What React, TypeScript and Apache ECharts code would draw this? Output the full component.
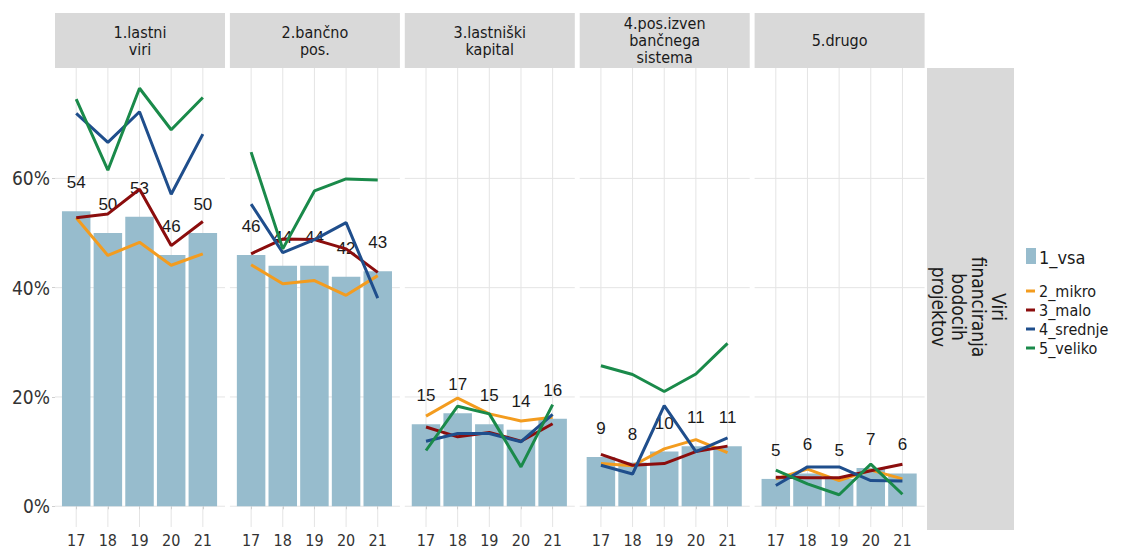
import React, { useEffect, useRef } from "react";
import * as echarts from "echarts";

// Survey years (x categories) and facet titles
const years = ["17", "18", "19", "20", "21"];
const panelTitles = [
  "1.lastni\nviri",
  "2.bančno\npos.",
  "3.lastniški\nkapital",
  "4.pos.izven\nbančnega\nsistema",
  "5.drugo",
];
const rowTitle = "Viri\nfinanciranja\nbodocih\nprojektov";

// Share of firms (%) per funding source, one row per facet, one value per year
const vsa = [
  [54, 50, 53, 46, 50],
  [46, 44, 44, 42, 43],
  [15, 17, 15, 14, 16],
  [9, 8, 10, 11, 11],
  [5, 6, 5, 7, 6],
];
const mikro = [
  [52.8, 45.9, 48.3, 44.1, 46.2],
  [44.2, 40.7, 41.3, 38.6, 42.2],
  [16.5, 19.8, 16.9, 15.6, 16.3],
  [7.8, 7.4, 10.5, 12.2, 9.8],
  [5.0, 6.8, 4.7, 6.6, 5.0],
];
const malo = [
  [52.8, 53.5, 58.0, 47.7, 52.1],
  [46.2, 48.9, 48.8, 47.1, 42.8],
  [14.5, 12.7, 13.5, 11.9, 15.1],
  [9.5, 7.5, 7.8, 10.0, 11.0],
  [5.3, 5.2, 5.2, 6.5, 7.7],
];
const srednje = [
  [71.9, 66.6, 72.2, 57.1, 68.1],
  [55.3, 46.4, 48.8, 51.9, 38.1],
  [11.9, 13.3, 13.3, 11.8, 16.8],
  [7.5, 5.9, 18.4, 10.0, 12.5],
  [3.8, 7.2, 7.2, 4.7, 4.6],
];
const veliko = [
  [74.5, 61.5, 76.5, 68.9, 74.8],
  [64.8, 47.1, 57.7, 59.9, 59.7],
  [10.2, 18.3, 16.9, 7.2, 18.6],
  [25.7, 24.1, 21.0, 24.2, 29.8],
  [6.6, 4.1, 2.1, 7.7, 2.2],
];

const barName = "1_vsa";
const lineNames = ["2_mikro", "3_malo", "4_srednje", "5_veliko"];
const lineData = [mikro, malo, srednje, veliko];
const yTicks = [0, 20, 40, 60];

const BAR_COLOR = "#97BCCD";
const LINE_COLORS = ["#F39C1F", "#8B0D0D", "#1F4E8C", "#1A8A4A"];
const GRID_COLOR = "#E4E4E4";
const STRIP_FILL = "#D9D9D9";
const TEXT_DARK = "#1A1A1A";
const FONT = '"DejaVu Sans Condensed", "Liberation Sans", sans-serif';
const LABEL_FONT = '"Liberation Sans", Arial, sans-serif';

// Facet layout
const PANEL_LEFT = 55;
const PANEL_STEP = 174.9;
const PANEL_W = 170;
const PANEL_TOP = 68;
const PANEL_H = 462;
const STRIP_TOP = 13;
const STRIP_H = 55;
const RIGHT_STRIP_X = 927;
const RIGHT_STRIP_W = 87;

// Panel grid lines: vertical at every year, horizontal at every y tick
function gridLineSeries(panel: number, xs: number[]) {
  const vertical = {
    type: "custom",
    xAxisIndex: panel,
    yAxisIndex: panel,
    silent: true,
    z: 0,
    data: xs.map((x) => [x, 0]),
    renderItem: (params: any, api: any) => {
      const cs = params.coordSys;
      const x = api.coord([api.value(0), 0])[0];
      return {
        type: "line",
        shape: { x1: x, y1: cs.y, x2: x, y2: cs.y + cs.height },
        style: { stroke: GRID_COLOR, lineWidth: 1 },
      };
    },
  };
  const horizontal = {
    type: "custom",
    xAxisIndex: panel,
    yAxisIndex: panel,
    silent: true,
    z: 0,
    data: yTicks.map((v) => [1, v]),
    renderItem: (params: any, api: any) => {
      const cs = params.coordSys;
      const y = api.coord([1, api.value(1)])[1];
      return {
        type: "line",
        shape: { x1: cs.x, y1: y, x2: cs.x + cs.width, y2: y },
        style: { stroke: GRID_COLOR, lineWidth: 1 },
      };
    },
  };
  return [vertical, horizontal];
}

function buildOption(): echarts.EChartsCoreOption {
  const n = panelTitles.length;
  const xPositions = years.map((_, k) => k + 1);

  const grid = panelTitles.map((_, i) => ({
    left: PANEL_LEFT + i * PANEL_STEP,
    top: PANEL_TOP,
    width: PANEL_W,
    height: PANEL_H,
  }));

  const xAxis = panelTitles.map((_, i) => ({
    type: "value",
    gridIndex: i,
    min: 0.33,
    max: 5.7,
    axisLine: { show: false },
    axisTick: {
      show: true,
      length: 3,
      customValues: xPositions,
      lineStyle: { color: "#D0D0D0" },
    },
    axisLabel: {
      customValues: xPositions,
      formatter: (v: number) => years[Math.round(v) - 1] ?? "",
      fontFamily: FONT,
      fontSize: 16,
      color: "#333333",
      margin: 5,
    },
    splitLine: { show: false },
  }));

  const yAxis = panelTitles.map((_, i) => ({
    type: "value",
    gridIndex: i,
    min: -3.8,
    max: 80.2,
    axisLine: { show: false },
    axisTick: {
      show: i === 0,
      length: 3,
      customValues: yTicks,
      lineStyle: { color: "#D0D0D0" },
    },
    axisLabel: {
      show: i === 0,
      customValues: yTicks,
      formatter: (v: number) => `${v}%`,
      fontFamily: FONT,
      fontSize: 19,
      color: "#333333",
      margin: 5,
    },
    splitLine: { show: false },
  }));

  const series: any[] = [];
  for (let i = 0; i < n; i++) {
    series.push(...gridLineSeries(i, xPositions));
    series.push({
      type: "bar",
      name: barName,
      xAxisIndex: i,
      yAxisIndex: i,
      barWidth: 28.5,
      data: vsa[i].map((v, k) => [k + 1, v]),
      itemStyle: { color: BAR_COLOR },
      label: {
        show: true,
        position: "top",
        distance: 20,
        formatter: (p: any) => String(p.value[1]),
        fontFamily: LABEL_FONT,
        fontSize: 17,
        color: TEXT_DARK,
      },
      z: 2,
    });
    lineData.forEach((group, g) => {
      series.push({
        type: "line",
        name: lineNames[g],
        xAxisIndex: i,
        yAxisIndex: i,
        data: group[i].map((v, k) => [k + 1, v]),
        symbol: "none",
        showSymbol: false,
        lineStyle: { color: LINE_COLORS[g], width: 3 },
        itemStyle: { color: LINE_COLORS[g] },
        z: 3,
      });
    });
  }

  const graphic: any[] = [];
  // Facet strips across the top
  panelTitles.forEach((title, i) => {
    const x = PANEL_LEFT + i * PANEL_STEP;
    graphic.push({
      type: "rect",
      shape: { x, y: STRIP_TOP, width: PANEL_W, height: STRIP_H },
      style: { fill: STRIP_FILL },
      silent: true,
    });
    graphic.push({
      type: "text",
      x: x + PANEL_W / 2,
      y: STRIP_TOP + STRIP_H / 2,
      style: {
        text: title,
        fontFamily: FONT,
        fontSize: 16,
        lineHeight: 17,
        fill: TEXT_DARK,
        align: "center",
        verticalAlign: "middle",
      },
      silent: true,
    });
  });

  // Row strip on the right
  graphic.push({
    type: "rect",
    shape: { x: RIGHT_STRIP_X, y: PANEL_TOP, width: RIGHT_STRIP_W, height: PANEL_H },
    style: { fill: STRIP_FILL },
    silent: true,
  });
  graphic.push({
    type: "text",
    x: RIGHT_STRIP_X + RIGHT_STRIP_W / 2 - 2,
    y: PANEL_TOP + PANEL_H / 2 + 8,
    rotation: -Math.PI / 2,
    style: {
      text: rowTitle,
      fontFamily: FONT,
      fontSize: 19,
      lineHeight: 20,
      fill: TEXT_DARK,
      align: "center",
      verticalAlign: "middle",
    },
    silent: true,
  });

  // Legend: bar key, then the four line keys
  const LEG_X = 1026;
  graphic.push({
    type: "rect",
    shape: { x: LEG_X, y: 248, width: 10, height: 16 },
    style: { fill: BAR_COLOR },
    silent: true,
  });
  graphic.push({
    type: "text",
    x: LEG_X + 13,
    y: 257,
    style: {
      text: barName,
      fontFamily: FONT,
      fontSize: 18,
      fill: TEXT_DARK,
      verticalAlign: "middle",
    },
    silent: true,
  });
  lineNames.forEach((name, g) => {
    const cy = 291 + g * 19;
    graphic.push({
      type: "rect",
      shape: { x: LEG_X, y: cy - 1.5, width: 9, height: 3 },
      style: { fill: LINE_COLORS[g] },
      silent: true,
    });
    graphic.push({
      type: "text",
      x: LEG_X + 13,
      y: cy,
      style: {
        text: name,
        fontFamily: FONT,
        fontSize: 16,
        fill: TEXT_DARK,
        verticalAlign: "middle",
      },
      silent: true,
    });
  });

  return {
    animation: false,
    backgroundColor: "#FFFFFF",
    grid,
    xAxis,
    yAxis,
    series,
    graphic,
  };
}

export default function App() {
  const ref = useRef<HTMLDivElement>(null);

  useEffect(() => {
    if (!ref.current) return;
    const chart = echarts.init(ref.current, undefined, { renderer: "svg" });
    chart.setOption(buildOption());
    return () => chart.dispose();
  }, []);

  return (
    <div
      ref={ref}
      style={{ position: "absolute", left: 0, top: 0, width: 1128, height: 548 }}
    />
  );
}
